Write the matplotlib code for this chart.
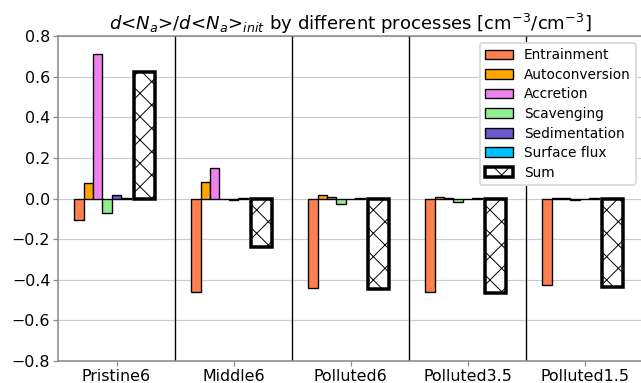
import matplotlib
matplotlib.use("Agg")
import matplotlib.pyplot as plt
import numpy as np

# figure is drawn at 140 dpi so the hatch spacing matches the original
DPI = 140

cases = ["Pristine6", "Middle6", "Polluted6", "Polluted3.5", "Polluted1.5"]
processes = ["Entrainment", "Autoconversion", "Accretion", "Scavenging",
             "Sedimentation", "Surface flux"]
colors = ["coral", "orange", "violet", "lightgreen", "slateblue", "deepskyblue"]

entrainment = [-0.107, -0.460, -0.443, -0.460, -0.427]
autoconversion = [0.074, 0.080, 0.015, 0.006, 0.002]
accretion = [0.710, 0.150, 0.007, 0.002, 0.001]
scavenging = [-0.071, -0.002, -0.025, -0.015, -0.008]
sedimentation = [0.018, -0.008, -0.001, -0.001, -0.001]
surface_flux = [0.002, 0.001, 0.001, 0.001, 0.001]
total = [0.625, -0.240, -0.445, -0.465, -0.435]

series = [entrainment, autoconversion, accretion, scavenging,
          sedimentation, surface_flux]

plt.rcParams["hatch.linewidth"] = 0.5

fig = plt.figure(figsize=(641 / DPI, 383 / DPI), dpi=DPI)
ax = fig.add_axes([58 / 641, 22 / 383, 585 / 641, 325 / 383])

x = np.arange(len(cases))
width = 0.08
for i, (vals, name, c) in enumerate(zip(series, processes, colors)):
    ax.bar(x + (i - 4) * width, vals, width, color=c, edgecolor="black",
           linewidth=0.7, label=name, zorder=3)

ax.bar(x + 0.24, total, 0.18, color="white", edgecolor="black",
       linewidth=1.8, hatch="xx", label="Sum", zorder=3)

for xv in x[:-1] + 0.5:
    ax.axvline(xv, color="black", linewidth=0.7, zorder=2)

ax.set_xlim(-0.5, 4.5)
ax.set_ylim(-0.8, 0.8)
ax.set_yticks(np.arange(-0.8, 0.81, 0.2))
ax.set_xticks(x)
ax.set_xticklabels(cases)
ax.yaxis.grid(True, color="#cccccc", linewidth=0.6, zorder=0)
ax.set_axisbelow(True)

for sp in ax.spines.values():
    sp.set_color("#888888")
ax.tick_params(axis="both", colors="#888888", labelcolor="black",
               labelsize=8.2, length=2.5, width=0.6, pad=1.5)

ax.set_title(r"$d$<$N_a$>/$d$<$N_a$>$_{init}$ by different processes [cm$^{-3}$/cm$^{-3}$]",
             fontsize=9.3, pad=3)

ax.legend(loc="upper right", fontsize=7.1, framealpha=1, edgecolor="#dddddd",
          borderaxespad=0.5, labelspacing=0.4)

fig.savefig("out.png", dpi=DPI)
